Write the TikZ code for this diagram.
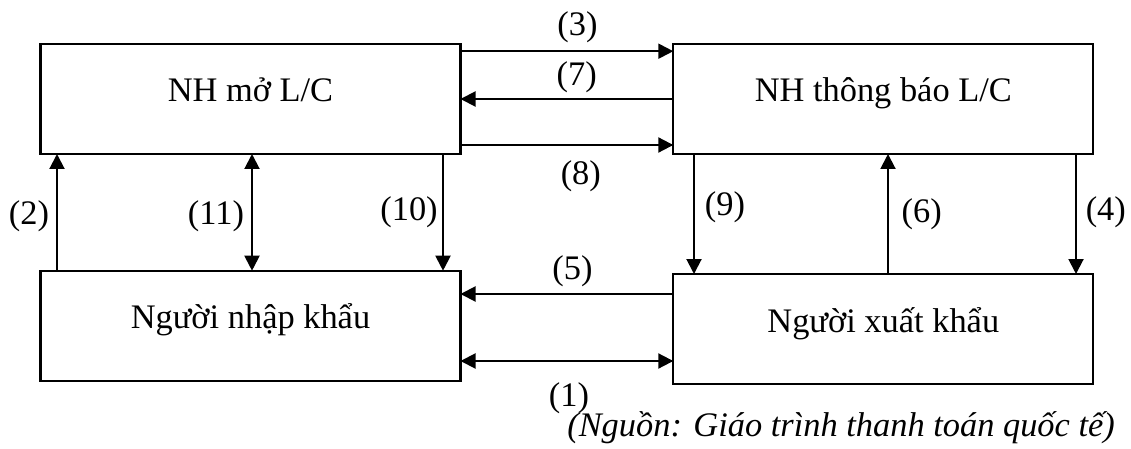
\documentclass[tikz,border=0pt]{standalone}
\usepackage{fontspec}
\setmainfont{Liberation Serif}
\usetikzlibrary{arrows.meta}
\begin{document}
\begin{tikzpicture}[x=1pt,y=-1pt,
  txt/.style={font=\fontsize{34.4}{40}\selectfont},
  box/.style={txt, draw, line width=2.2pt, minimum width=420pt, minimum height=110pt,
    inner sep=0pt, outer sep=0pt, text height=24pt, text depth=18pt},
  lbl/.style={txt, inner sep=0pt},
  tip/.tip={Triangle[length=15pt,width=15pt]},
  arr/.style={line width=2pt, -tip},
  darr/.style={line width=2pt, tip-tip}]
\useasboundingbox (0,0) rectangle (1131,449);

% the four parties
\node[box] (lcb) at (250.5,99)  {NH mở L/C};
\node[box] (adb) at (883.3,99)  {NH thông báo L/C};
\node[box] (imp) at (250.5,325.7) {Người nhập khẩu};
\node[box] (exp) at (883.3,329) {Người xuất khẩu};

% between the two banks
\draw[arr] ([yshift=-7.2pt]lcb.north east) -- ([yshift=-7.2pt]adb.north west);
\draw[arr] (adb.west) -- (lcb.east);
\draw[arr] ([yshift=9pt]lcb.south east) -- ([yshift=9pt]adb.south west);

% between importer and exporter
\coordinate (p5) at ([yshift=-20pt]exp.north west);
\draw[arr] (p5) -- (p5 -| imp.east);
\coordinate (p1) at ([yshift=23pt]exp.south west);
\draw[darr] (p1 -| imp.east) -- (p1);

% issuing bank and importer
\draw[arr] ([xshift=16.5pt]imp.north west) -- ([xshift=16.5pt]lcb.south west);
\draw[darr] ([xshift=1.5pt]lcb.south) -- ([xshift=1.5pt]imp.north);
\draw[arr] ([xshift=-17.5pt]lcb.south east) -- ([xshift=-17.5pt]imp.north east);

% advising bank and exporter
\draw[arr] ([xshift=20.7pt]adb.south west) -- ([xshift=20.7pt]exp.north west);
\draw[arr] ([xshift=4.7pt]exp.north) -- ([xshift=4.7pt]adb.south);
\draw[arr] ([xshift=-17.3pt]adb.south east) -- ([xshift=-17.3pt]exp.north east);

% step numbers
\node[lbl] (n3)  at (577.5,27)  {(3)};
\node[lbl] (n7)  at (576.7,77.5) {(7)};
\node[lbl] (n8)  at (580.8,176) {(8)};
\node[lbl] (n2)  at (29,216)    {(2)};
\node[lbl] (n11) at (216,216)   {(11)};
\node[lbl] (n10) at (409,212.5) {(10)};
\node[lbl] (n9)  at (725,207.5) {(9)};
\node[lbl] (n6)  at (921.7,214) {(6)};
\node[lbl] (n4)  at (1105.8,212.5) {(4)};
\node[lbl] (n5)  at (572.5,270.8) {(5)};
\node[lbl] (n1)  at (569,398)   {(1)};

% source line
\node[lbl, anchor=base east, font=\fontsize{34.4}{40}\selectfont\itshape] (src) at (1115,436)
  {(Nguồn: Giáo trình thanh toán quốc tế)};
\end{tikzpicture}
\end{document}
